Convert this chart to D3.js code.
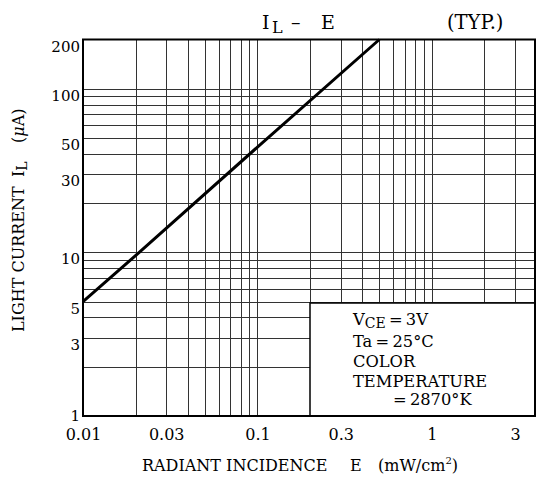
<!DOCTYPE html>
<html><head><meta charset="utf-8">
<script src="https://cdn.jsdelivr.net/npm/d3@7/dist/d3.min.js"></script>
<style>
body{margin:0;background:#fff;}
text{font-family:"DejaVu Serif",serif;fill:#000;white-space:pre;}
</style></head>
<body>
<svg id="c" width="538" height="479"></svg>
<script>
// Data
const xTickValues = [0.01, 0.03, 0.1, 0.3, 1, 3];
const xTickLabels = ["0.01", "0.03", "0.1", "0.3", "1", "3"];
const yTickValues = [1, 3, 5, 10, 30, 50, 100, 200];
const yTickLabels = ["1", "3", "5", "10", "30", "50", "100", "200"];
const xGrid = [0.02,0.03,0.04,0.05,0.06,0.07,0.08,0.09,0.1,0.2,0.3,0.4,0.5,0.6,0.7,0.8,0.9,1,2,3];
const yGrid = [2,3,4,5,6,7,8,9,10,20,30,40,50,60,70,80,90,100];
const radiantE = [0.01, 0.021, 0.1, 0.5];
const lightIL = [5, 10, 44, 200];
const legendLines = ["Ta\u2009=\u200925\u00b0C", "COLOR", "TEMPERATURE"];

const svg = d3.select("#c");
const x = d3.scaleLog().domain([0.01, 3.9]).range([83, 535]);
const y = d3.scaleLog().domain([1, 200]).range([416, 39.5]);
const [x0, x1] = x.range();
const [y0, y1] = y.range();

// grid
svg.append("g").selectAll("line").data(xGrid).join("line")
  .attr("x1", d => Math.round(x(d)) + 0.5).attr("x2", d => Math.round(x(d)) + 0.5)
  .attr("y1", y1).attr("y2", y0)
  .attr("stroke", "#333").attr("stroke-width", 1);
svg.append("g").selectAll("line").data(yGrid).join("line")
  .attr("y1", d => Math.round(y(d)) + 0.5).attr("y2", d => Math.round(y(d)) + 0.5)
  .attr("x1", x0).attr("x2", x1)
  .attr("stroke", "#333").attr("stroke-width", 1);

// legend box (covers grid)
const bx = 310, by = 303;
svg.append("rect").attr("x", bx).attr("y", by).attr("width", x1 - bx).attr("height", y0 - by)
  .attr("fill", "#fff").attr("stroke", "#000").attr("stroke-width", 1.5);

// curve
const line = d3.line().x(d => x(d[0])).y(d => y(d[1]));
svg.append("path").datum(radiantE.map((e, i) => [e, lightIL[i]]))
  .attr("d", line).attr("fill", "none").attr("stroke", "#000").attr("stroke-width", 3);

// frame
svg.append("rect").attr("x", x0).attr("y", y1).attr("width", x1 - x0).attr("height", y0 - y1)
  .attr("fill", "none").attr("stroke", "#000").attr("stroke-width", 2);

// axes
const xa = svg.append("g").attr("transform", `translate(0,${y0})`)
  .call(d3.axisBottom(x).tickValues(xTickValues).tickSize(0).tickPadding(0)
    .tickFormat((d, i) => xTickLabels[i]));
xa.select(".domain").remove();
xa.selectAll("text").attr("y", 24).attr("dy", null).attr("font-size", 16)
  .attr("font-family", "DejaVu Serif").attr("fill", "#000");

const ya = svg.append("g").attr("transform", `translate(${x0},0)`)
  .call(d3.axisLeft(y).tickValues(yTickValues).tickSize(0).tickPadding(3)
    .tickFormat((d, i) => yTickLabels[i]));
ya.select(".domain").remove();
ya.selectAll("text").attr("dy", null).attr("y", d => d === 1 ? 4 : 11.5).attr("font-size", 15)
  .attr("font-family", "DejaVu Serif").attr("fill", "#000");

// legend text
const lg = svg.append("g").attr("font-size", 16.3);
const t1 = lg.append("text").attr("x", 353).attr("y", 325);
t1.append("tspan").text("V");
t1.append("tspan").attr("dy", 3).attr("font-size", 14).text("CE");
t1.append("tspan").attr("dy", -3).text("\u2009=\u20093V");
legendLines.forEach((s, i) => lg.append("text").attr("x", 353).attr("y", 346.5 + i * 20).text(s));
lg.append("text").attr("x", 393).attr("y", 405).text("=\u20092870\u00b0K");

// title
const tg = svg.append("g").attr("font-size", 19);
tg.append("text").attr("x", 262).attr("y", 29).text("I");
tg.append("text").attr("x", 272).attr("y", 33).attr("font-size", 16).text("L");
tg.append("text").attr("x", 291).attr("y", 29).text("\u2013");
tg.append("text").attr("x", 321).attr("y", 29).text("E");
svg.append("text").attr("x", 447).attr("y", 29).attr("font-size", 19.5).text("(TYP.)");

// x label
const xg = svg.append("g").attr("font-size", 16);
xg.append("text").attr("x", 142).attr("y", 471).text("RADIANT INCIDENCE");
xg.append("text").attr("x", 350).attr("y", 471).text("E");
const xl = xg.append("text").attr("x", 378).attr("y", 471);
xl.append("tspan").text("(mW/cm");
xl.append("tspan").attr("dy", -7).attr("font-size", 10).text("2");
xl.append("tspan").attr("dy", 7).text(")");

// y label
const yg = svg.append("g").attr("transform", "translate(24,332) rotate(-90)").attr("font-size", 16);
yg.append("text").attr("x", 0).attr("y", 0).text("LIGHT CURRENT");
const yi = yg.append("text").attr("x", 155).attr("y", 0);
yi.append("tspan").text("I");
yi.append("tspan").attr("dy", 3).attr("font-size", 14).text("L");
const yu = yg.append("text").attr("x", 189).attr("y", 0);
yu.append("tspan").text("(");
yu.append("tspan").attr("font-style", "italic").text("\u03bc");
yu.append("tspan").text("A)");
</script>
</body></html>
